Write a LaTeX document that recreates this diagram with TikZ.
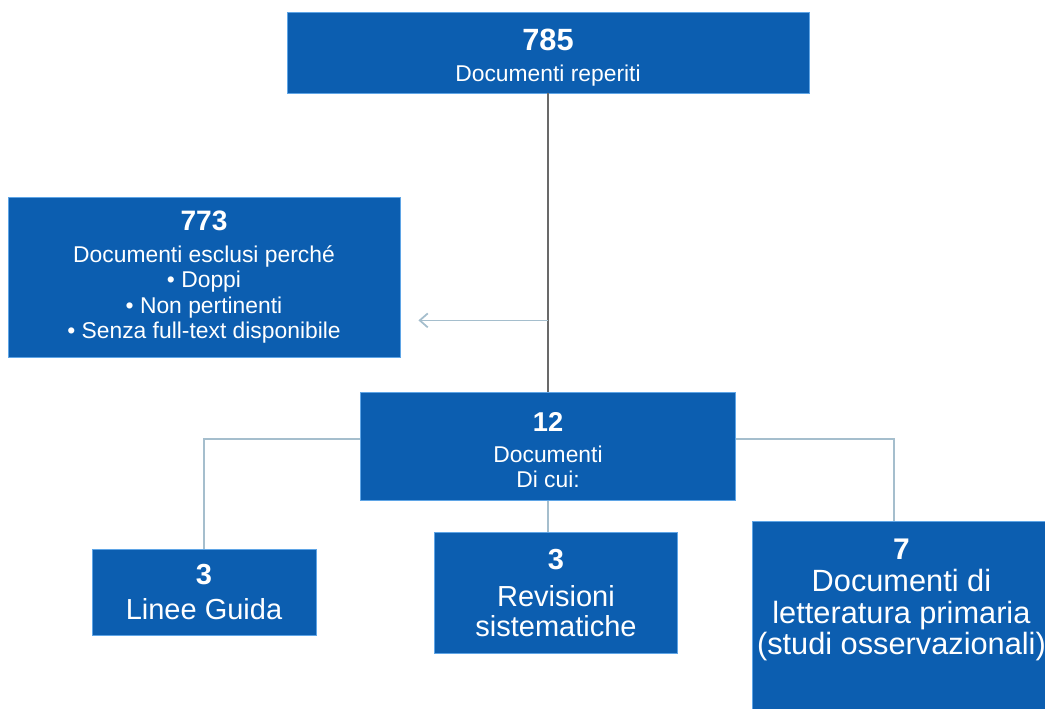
\documentclass[tikz,border=0pt]{standalone}
\usepackage{fontspec}
\setmainfont{Liberation Sans}
\usepackage{xcolor}
\usepackage{tikz}
\usetikzlibrary{calc}
\usetikzlibrary{positioning}
\usetikzlibrary{arrows.meta}
\definecolor{boxblue}{RGB}{12,94,176}
\definecolor{boxrim}{RGB}{95,165,230}
\definecolor{trunk}{RGB}{105,105,105}
\definecolor{branch}{RGB}{165,190,205}
\newcommand{\nb}[2]{{\fontsize{#1}{#1}\selectfont\bfseries #2}}

\begin{document}
\begin{tikzpicture}

                \def\gap{5.98cm}
                \def\drop{0.62cm}

                % The page is 20.9cm x 14.18cm, boxes sit on it in cm
                \useasboundingbox (0,0) rectangle (20.9,-14.18);
                \tikzset{box/.style={draw=boxrim, line width=0.5pt,
                    fill=boxblue, text=white, align=center, inner sep=0pt},
                    small/.style={font=\fontsize{13}{14.5}\selectfont},
                    large/.style={font=\fontsize{16.5}{17}\selectfont}}

                % Scope used for the boxes
                \begin{scope}

                    \node (785) [box, small, minimum width=10.44cm,
                    minimum height=1.62cm] at (10.96, -1.05)
                    {\nb{17.5}{\rule{0pt}{18.2pt}785}\\[3pt]Documenti reperiti};
                    \node (773) [box, small, minimum width=7.84cm,
                    minimum height=3.2cm] at (4.08, -5.54)
                    {\nb{16}{773}\\[3.6pt]Documenti esclusi perché\\
                    \textbullet\ Doppi\\\textbullet\ Non pertinenti\\
                    \textbullet\ Senza full-text disponibile};
                    \node (12) [box, small, minimum width=7.5cm,
                    minimum height=2.16cm, below=\gap of 785]
                    {\nb{15.5}{\rule{0pt}{14.5pt}12}\\[3pt]Documenti\\Di cui:};
                    \node (rev) [box, large, minimum width=4.86cm,
                    minimum height=2.42cm, below=\drop of 12, xshift=0.16cm]
                    {\nb{16.5}{3}\\[4pt]Revisioni\\sistematiche};
                    \node (lg) [box, large, minimum width=4.48cm,
                    minimum height=1.72cm] at (4.08, -11.84)
                    {\nb{16.5}{3}\\[3pt]Linee Guida};
                    \node (prim) [box, font=\fontsize{17.5}{18}\selectfont,
                    minimum width=5.96cm, inner ysep=0.36cm,
                    anchor=north west] at (15.04, -10.42)
                    {\nb{17}{7}\\Documenti di\\letteratura primaria\\
                    (studi osservazionali)\\[30pt]\mbox{}};
                \end{scope}

                \coordinate (fork) at ($(785.south)!0.759!(12.north)$);

                \begin{scope}[line width=1pt, branch]
                    \draw[trunk, line width=0.85pt] (785) -- (12);
                    \draw[-{Straight Barb[length=1.6mm, width=2.8mm]},
                    shorten >=0.36cm] (fork) -- (773.east |- fork);
                    \draw ([yshift=0.16cm]12.west) -| (lg.north);
                    \draw ([yshift=0.16cm]12.east) -| ([xshift=-0.15cm]prim.north);
                    \draw (12.south) -- (12.south |- rev.north);
                \end{scope}

                \end{tikzpicture}
\end{document}
